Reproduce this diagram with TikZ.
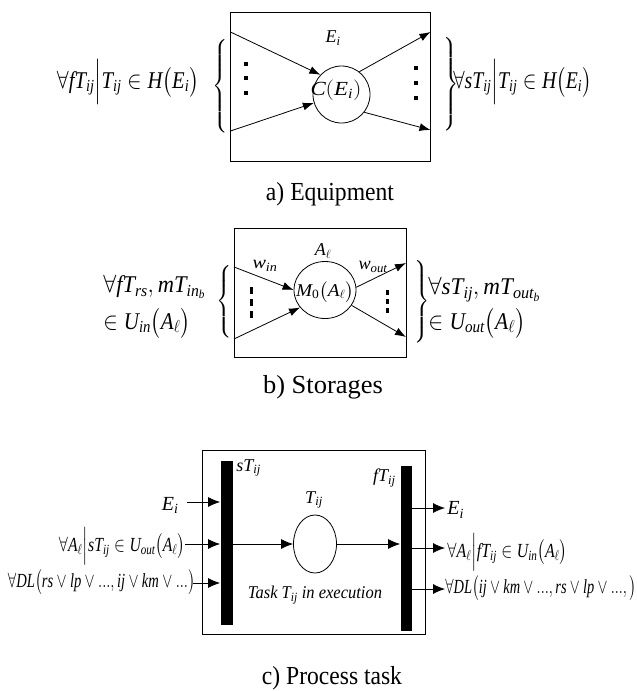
\documentclass[tikz,border=0pt]{standalone}
\usepackage{amsmath}
\usepackage{mathspec}
\setmainfont{Liberation Serif}
\setmathsfont(Digits,Latin){Liberation Serif}
\usepackage{graphicx}
\usetikzlibrary{arrows.meta,shapes.geometric}

\newcommand{\fitw}[2]{\resizebox{#1}{\height}{#2}}

\begin{document}
\begin{tikzpicture}[x=1pt, y=-1pt,
  flow/.style={-{Latex[length=11pt, width=8pt]}},
  bigflow/.style={-{Latex[length=12pt, width=10pt]}},
  frame/.style={draw, inner sep=0pt},
  place/.style={draw, ellipse, inner sep=0pt},
  bar/.style={fill=black, inner sep=0pt},
  txt/.style={inner sep=0pt, font=\fontsize{#1}{#1}\selectfont},
  dashbar/.style={line width=3pt, dash pattern=on #1 off 5pt},
  line width=0.8pt
]
  \useasboundingbox (0,0) rectangle (637,691);

  % a) equipment
  \node[frame, minimum width=200pt, minimum height=149pt] (boxA) at (330.5,86.5) {};
  \node[place, minimum size=57pt] (circA) at (341.5,94.5) {};
  \node[txt=20] (costA) at (336,90) {\fitw{51pt}{$C(E_i)$}};
  \node[txt=18] (nameA) at (333,38) {$E_i$};
  \coordinate (inA1) at (230.5,32);
  \coordinate (inA2) at (230.5,131);
  \coordinate (outA1) at (430.5,32);
  \coordinate (outA2) at (430.5,130);
  \draw[flow] (inA1) -- (circA.137);
  \draw[flow] (inA2) -- (circA.197);
  \draw[flow] (circA.52) -- (outA1);
  \draw[flow] (circA.322) -- (outA2);
  \foreach \y in {64,78,93} \fill (244,\y-2) rectangle ++(4,4);
  \foreach \y in {68,83,98} \fill (413.5,\y-2) rectangle ++(4,4);
  \node[txt=18] (braceA1) at (220.5,86.5) {$\left\{\vrule height 43pt depth 43pt width 0pt\right.$};
  \node[txt=16] (braceA2) at (451,84) {$\left.\vrule height 42pt depth 42pt width 0pt\right\}$};
  \node[txt=24] (inSetA) at (128,82) {\fitw{142pt}{$\forall fT_{ij}\Big|T_{ij}\in H\big(E_i\big)$}};
  \node[txt=24, anchor=west] (outSetA) at (453,82) {\fitw{138pt}{$\forall sT_{ij}\Big|T_{ij}\in H\big(E_i\big)$}};
  \node[txt=26] (capA) at (330,194) {\fitw{128pt}{a) Equipment}};

  % b) storages
  \node[frame, minimum width=172pt, minimum height=129pt] (boxB) at (320,292.5) {};
  \node[place, minimum width=62pt, minimum height=57pt] (circB) at (325,290) {};
  \node[txt=18] (markB) at (325,292) {\fitw{58pt}{$M_0\big(A_\ell\big)$}};
  \node[txt=18] (nameB) at (323,251) {$A_\ell$};
  \node[txt=18] (wIn) at (265,266) {\fitw{25pt}{$w_{in}$}};
  \node[txt=18] (wOut) at (373,267) {\fitw{29pt}{$w_{out}$}};
  \coordinate (inB1) at (234,267);
  \coordinate (inB2) at (234,339);
  \coordinate (outB1) at (406,263);
  \coordinate (outB2) at (406,337);
  \draw[flow] (inB1) -- (circB.180);
  \draw[flow] (inB2) -- (circB.215);
  \draw[flow] (circB.5) -- (outB1);
  \draw[flow] (circB.330) -- (outB2);
  \draw[dashbar=7pt] (251,287) -- (251,318);
  \draw[dashbar=5pt, dash pattern=on 5pt off 4pt] (387,290) -- (387,313);
  \node[txt=16] (braceB1) at (225,302) {$\left\{\vrule height 33pt depth 33pt width 0pt\right.$};
  \node[txt=16] (braceB2) at (421.5,301.5) {$\left.\vrule height 36pt depth 36pt width 0pt\right\}$};
  \node[txt=24, anchor=west] (inSetB1) at (103,287) {\fitw{102pt}{$\forall fT_{rs},mT_{in_b}$}};
  \node[txt=24, anchor=west] (inSetB2) at (103,323) {\fitw{87pt}{$\in U_{in}\big(A_\ell\big)$}};
  \node[txt=24, anchor=west] (outSetB1) at (428,290) {\fitw{112pt}{$\forall sT_{ij},mT_{out_b}$}};
  \node[txt=24, anchor=west] (outSetB2) at (428,323) {\fitw{97pt}{$\in U_{out}\big(A_\ell\big)$}};
  \node[txt=26] (capB) at (323,387) {\fitw{120pt}{b) Storages}};

  % c) process task
  \node[frame, minimum width=223pt, minimum height=184pt] (boxC) at (313.5,542) {};
  \node[bar, minimum width=12pt, minimum height=164pt] (barL) at (226.5,543) {};
  \node[bar, minimum width=11pt, minimum height=165pt] (barR) at (406,548.5) {};
  \node[place, minimum width=43pt, minimum height=58pt] (taskC) at (315,544) {};
  \node[txt=18] (nameC) at (314,500) {$T_{ij}$};
  \node[txt=18, anchor=west] (startC) at (236,468) {$sT_{ij}$};
  \node[txt=18, anchor=east] (finishC) at (396,478) {$fT_{ij}$};
  \node[txt=18] (execC) at (315,595) {\fitw{134pt}{\itshape Task $T_{ij}$ in execution}};
  \draw[bigflow] (barL.east |- taskC) -- (taskC);
  \draw[bigflow] (taskC.east) -- (taskC.east -| barR.west);

  \coordinate (srcC1) at (187,502);
  \coordinate (srcC2) at (185,544);
  \coordinate (srcC3) at (193,583);
  \draw[bigflow] (srcC1) -- (srcC1 -| barL.west);
  \draw[bigflow] (srcC2) -- (srcC2 -| barL.west);
  \draw[bigflow] (srcC3) -- (srcC3 -| barL.west);
  \node[txt=20, anchor=east] (inEqC) at (179,505) {$E_i$};
  \node[txt=20] (inStoreC) at (122,546) {\fitw{126pt}{$\forall A_\ell\Big|sT_{ij}\in U_{out}\big(A_\ell\big)$}};
  \node[txt=20] (inLinkC) at (101.5,582) {\fitw{187pt}{$\forall DL\big(rs\vee lp\vee ...,ij\vee km\vee ...\big)$}};

  \coordinate (sinkC1) at (445,508);
  \coordinate (sinkC2) at (445,548);
  \coordinate (sinkC3) at (445,589);
  \draw[bigflow] (sinkC1 -| barR.east) -- (sinkC1);
  \draw[bigflow] (sinkC2 -| barR.east) -- (sinkC2);
  \draw[bigflow] (sinkC3 -| barR.east) -- (sinkC3);
  \node[txt=20, anchor=west] (outEqC) at (447,510) {$E_i$};
  \node[txt=20, anchor=west] (outStoreC) at (447,552) {\fitw{120pt}{$\forall A_\ell\Big|fT_{ij}\in U_{in}\big(A_\ell\big)$}};
  \node[txt=20, anchor=west] (outLinkC) at (445,588) {\fitw{191pt}{$\forall DL\big(ij\vee km\vee ...,rs\vee lp\vee ...,\big)$}};
  \node[txt=26] (capC) at (332,678) {\fitw{140pt}{c) Process task}};
\end{tikzpicture}
\end{document}
